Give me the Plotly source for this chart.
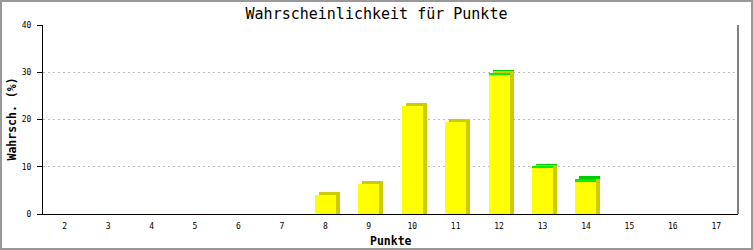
import plotly.graph_objects as go

# ---- data ----
punkte = [2, 3, 4, 5, 6, 7, 8, 9, 10, 11, 12, 13, 14, 15, 16, 17]
gelb = [None, None, None, None, None, None, 4.0, 6.35, 22.9, 19.5, 29.6, 9.8, 6.8, None, None, None]
gruen = [None, None, None, None, None, None, None, None, None, None, 0.2, 0.2, 0.6, None, None, None]
y_ticks = [0, 10, 20, 30, 40]

title_text = "Wahrscheinlichkeit für Punkte"
x_title = "Punkte"
y_title = "Wahrsch. (%)"

# ---- geometry (pixels) ----
W, H = 753, 250
ML, MR, MT, MB = 43, 15, 25, 36
PW, PH = W - ML - MR, H - MT - MB
DX, DY = 4, 3  # 3D depth offset
YMAX = 40
k_x = PW / (len(punkte))          # px per category
k_y = PH / YMAX                    # px per unit
bw = 21 / k_x                      # bar width in axis units
d = DY / k_y                       # depth in y units

x_range = [punkte[0] - 0.5, punkte[-1] + 0.5]
x2_range = [x_range[0], x_range[0] + (PW - DX) / k_x]
y2_range = [-d, YMAX - d]

tot = [(g + (gr or 0)) if g is not None else None for g, gr in zip(gelb, gruen)]
shadow_green = [(t + d) if (t is not None and gr is not None) else None for t, gr in zip(tot, gruen)]
shadow_yellow = [(g + d) if g is not None else None for g in gelb]

fig = go.Figure()
# axes/grid holder
fig.add_trace(go.Scatter(x=[], y=[], xaxis="x", yaxis="y", showlegend=False, hoverinfo="skip"))
# shadows
fig.add_trace(go.Bar(x=punkte, y=shadow_green, base=-d, width=bw, marker=dict(color="#00cc00", line=dict(width=0)),
                     xaxis="x2", yaxis="y2", showlegend=False, hoverinfo="skip"))
fig.add_trace(go.Bar(x=punkte, y=shadow_yellow, base=-d, width=bw, marker=dict(color="#cccc00", line=dict(width=0)),
                     xaxis="x2", yaxis="y2", showlegend=False, hoverinfo="skip"))
# fronts
fig.add_trace(go.Bar(x=punkte, y=gelb, width=bw, marker=dict(color="#ffff00", line=dict(width=0)),
                     xaxis="x3", yaxis="y3", showlegend=False))
fig.add_trace(go.Bar(x=punkte, y=gruen, base=[g if g is not None else 0 for g in gelb], width=bw,
                     marker=dict(color="#00f000", line=dict(width=0)),
                     xaxis="x3", yaxis="y3", showlegend=False))

mono = "DejaVu Sans Mono"
fig.update_layout(
    width=W, height=H,
    margin=dict(l=ML, r=MR, t=MT, b=MB),
    paper_bgcolor="white",
    plot_bgcolor="rgba(0,0,0,0)",
    barmode="overlay",
    bargap=0,
    title=dict(text=title_text, x=0.5, xanchor="center", xref="container",
               y=1 - 14 / H, yanchor="middle", yref="container",
               font=dict(family=mono, size=15, color="black")),
    xaxis=dict(domain=[0, 1], range=x_range, tickvals=punkte, ticktext=[str(p) for p in punkte],
               showgrid=False, zeroline=False, showline=True, linecolor="black", linewidth=1,
               ticks="", ticklabelstandoff=4,
               tickfont=dict(family=mono, size=8, color="black"), fixedrange=True),
    yaxis=dict(domain=[0, 1], range=[0, YMAX], tickvals=y_ticks, showgrid=True, gridcolor="#bbbbbb",
               griddash="2px,3px", gridwidth=1, zeroline=False, showline=True, linecolor="black",
               linewidth=1, ticks="outside", ticklen=5, tickcolor="black", ticklabelstandoff=4,
               tickfont=dict(family=mono, size=8, color="black"), fixedrange=True),
    xaxis2=dict(domain=[DX / PW, 1], range=x2_range, visible=False, anchor="y2"),
    yaxis2=dict(domain=[0, 1], range=y2_range, visible=False, anchor="x2"),
    xaxis3=dict(domain=[0, 1], range=x_range, visible=False, anchor="y3"),
    yaxis3=dict(domain=[0, 1], range=[0, YMAX], visible=False, anchor="x3"),
    annotations=[
        dict(text="<b>" + x_title + "</b>", xref="paper", yref="paper", x=0.5,
             y=-(240.5 - (MT + PH)) / PH, xanchor="center", yanchor="middle", showarrow=False,
             font=dict(family=mono, size=11.5, color="black")),
        dict(text="<b>" + y_title + "</b>", xref="paper", yref="paper", x=(11 - ML) / PW,
             y=0.5, xanchor="center", yanchor="middle", textangle=-90, showarrow=False,
             font=dict(family=mono, size=11.5, color="black")),
    ],
    shapes=[
        dict(type="line", xref="paper", yref="paper", x0=1, x1=1, y0=0, y1=1,
             line=dict(color="black", width=1)),
        dict(type="rect", xref="paper", yref="paper",
             x0=(-ML + 1) / PW, x1=1 + (MR - 1) / PW, y0=(-MB + 1) / PH, y1=1 + (MT - 1) / PH,
             line=dict(color="#999999", width=2), fillcolor="rgba(0,0,0,0)"),
    ],
)

fig.write_html("out.html")
